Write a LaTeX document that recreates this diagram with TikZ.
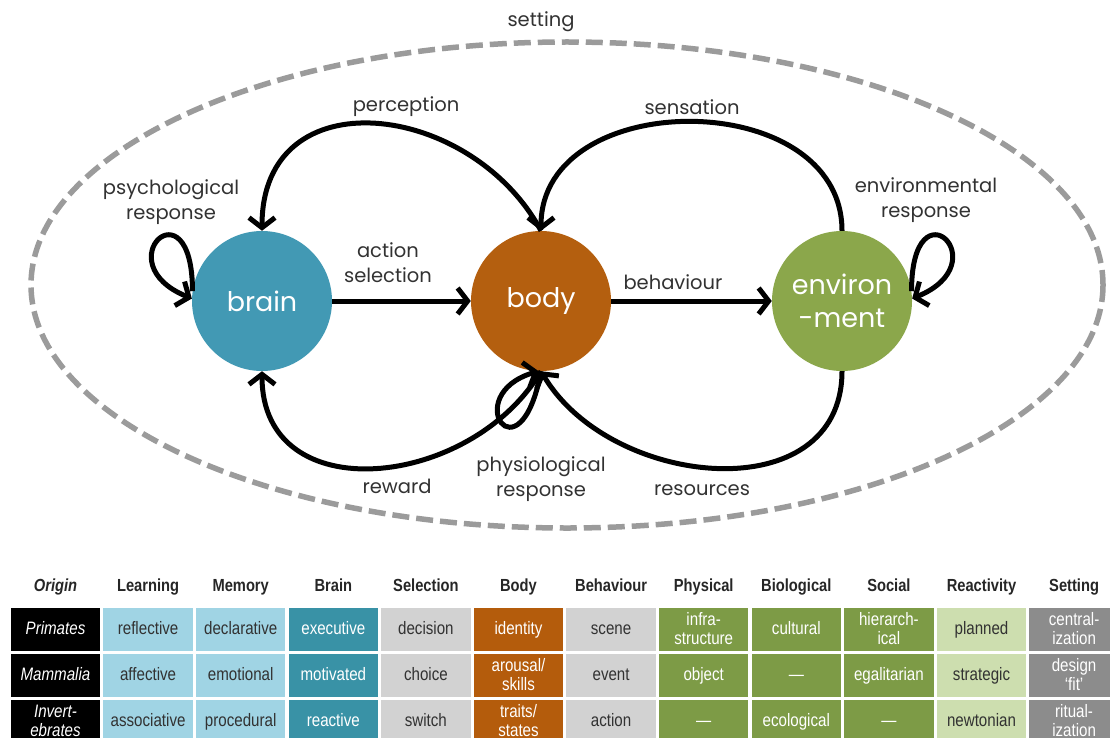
\documentclass[tikz,border=0pt]{standalone}
\usepackage{fontspec}
\usetikzlibrary{arrows.meta}
\newfontfamily\dfont{Poppins}
\newfontfamily\tfont[FakeStretch=0.84]{Liberation Sans}
\definecolor{brainc}{RGB}{66,153,180}
\definecolor{bodyc}{RGB}{180,95,15}
\definecolor{envc}{RGB}{139,167,75}
\definecolor{setc}{RGB}{155,155,155}
\definecolor{lblue}{RGB}{160,212,228}
\definecolor{tblue}{RGB}{57,146,166}
\definecolor{lgray}{RGB}{210,210,210}
\definecolor{obody}{RGB}{180,92,12}
\definecolor{dgreen}{RGB}{125,155,70}
\definecolor{lgreen}{RGB}{205,222,175}
\definecolor{dgray}{RGB}{140,140,140}
\definecolor{txt}{RGB}{50,50,50}
\newcommand\topstrut{\rule[-6pt]{0pt}{22pt}}
\newcommand\botstrut{\rule[-6pt]{0pt}{6pt}}
\newcommand\twol[2]{\begin{tabular}{@{}c@{}}#1\\#2\end{tabular}}
\begin{document}
\begin{tikzpicture}[x=1pt,y=-1pt,
  lbl/.style={font=\dfont\fontsize{19.5}{25}\selectfont, text=txt, align=center, inner sep=0pt},
  ball/.style={circle, minimum size=140pt, inner sep=0pt, text=white, align=center,
    font=\dfont\fontsize{27}{33}\selectfont},
  arr/.style={line width=5pt, -{Straight Barb[length=10pt,width=26pt]}},
  hd/.style={font=\tfont\bfseries\fontsize{17.5}{19}\selectfont, text=black!85, inner sep=0pt,
    execute at begin node=\strut},
  cell/.style={minimum width=89.5pt, minimum height=43pt, inner sep=0pt,
    font=\tfont\fontsize{18}{19.5}\selectfont,
    execute at begin node=\topstrut, execute at end node=\botstrut},
  two/.style={text height=20pt, text depth=7pt},
  lc/.style={cell, text=txt},
  dc/.style={cell, text=white},
  oc/.style={cell, text=white, fill=black, font=\tfont\itshape\fontsize{18}{19.5}\selectfont},
]
\useasboundingbox (0,0) rectangle (1110,738);
\clip (0,0) rectangle (1110,738);

% setting ellipse
\draw[setc, line width=5.5pt, dash pattern=on 17pt off 7pt] (567,285) ellipse [x radius=536, y radius=243];
\node[lbl] (setting) at (541,22) {setting};

% main nodes
\node[ball, fill=brainc] (brain) at (262,301) {brain};
\node[ball, fill=bodyc] (body) at (541,301) {body};
\node[ball, fill=envc] (env) at (842,301) {environ\\-ment};

% straight arrows
\draw[arr] (brain.east) -- (body.west);
\draw[arr] (body.east) -- (env.west);

% arcs
\draw[arr] (body.north) .. controls +(-70,-130) and +(0,-155) .. (brain.north);
\draw[arr] (env.north) .. controls +(0,-145) and +(0,-145) .. (body.north);
\draw[arr] (body.south) .. controls +(-70,118) and +(0,140) .. (brain.south);
\draw[arr] (env.south) .. controls +(0,140) and +(70,118) .. (body.south);

% loops
\draw[arr] (brain.172) .. controls +(0,-112) and +(-88,-36) .. (brain.178);
\draw[arr] (env.8) .. controls +(0,-112) and +(88,-36) .. (env.2);
\draw[arr] (body.south) .. controls +(-21,113) and +(-80,24) .. (body.268);

% labels
\node[lbl] (lperc) at (406,107) {perception};
\node[lbl] (lsens) at (692,107) {sensation};
\node[lbl] (lpsy) at (171,202) {psychological\\response};
\node[lbl] (lenv) at (926,200) {environmental\\response};
\node[lbl] (lact) at (388,263) {action\\selection};
\node[lbl] (lbeh) at (673,282) {behaviour};
\node[lbl] (lrew) at (397,486) {reward};
\node[lbl] (lphy) at (541,479) {physiological\\response};
\node[lbl] (lres) at (702,490) {resources};

% table header
\node[hd] (h0) at (55.5,588) {\itshape Origin};
\node[hd] (h1) at (148.1,588) {Learning};
\node[hd] (h2) at (240.7,588) {Memory};
\node[hd] (h3) at (333.3,588) {Brain};
\node[hd] (h4) at (425.9,588) {Selection};
\node[hd] (h5) at (518.5,588) {Body};
\node[hd] (h6) at (611.1,588) {Behaviour};
\node[hd] (h7) at (703.7,588) {Physical};
\node[hd] (h8) at (796.3,588) {Biological};
\node[hd] (h9) at (888.9,588) {Social};
\node[hd] (h10) at (981.5,588) {Reactivity};
\node[hd] (h11) at (1074.1,588) {Setting};

% row 1
\node[oc] (a0) at (55.5,629) {Primates};
\node[lc, fill=lblue] (a1) at (148.1,629) {reflective};
\node[lc, fill=lblue] (a2) at (240.7,629) {declarative};
\node[dc, fill=tblue] (a3) at (333.3,629) {executive};
\node[lc, fill=lgray] (a4) at (425.9,629) {decision};
\node[dc, fill=obody] (a5) at (518.5,629) {identity};
\node[lc, fill=lgray] (a6) at (611.1,629) {scene};
\node[dc, fill=dgreen, two] (a7) at (703.7,629) {\twol{infra-}{structure}};
\node[dc, fill=dgreen] (a8) at (796.3,629) {cultural};
\node[dc, fill=dgreen, two] (a9) at (888.9,629) {\twol{hierarch-}{ical}};
\node[lc, fill=lgreen] (a10) at (981.5,629) {planned};
\node[dc, fill=dgray, two] (a11) at (1074.1,629) {\twol{central-}{ization}};

% row 2
\node[oc] (b0) at (55.5,675) {Mammalia};
\node[lc, fill=lblue] (b1) at (148.1,675) {affective};
\node[lc, fill=lblue] (b2) at (240.7,675) {emotional};
\node[dc, fill=tblue] (b3) at (333.3,675) {motivated};
\node[lc, fill=lgray] (b4) at (425.9,675) {choice};
\node[dc, fill=obody, two] (b5) at (518.5,675) {\twol{arousal/}{skills}};
\node[lc, fill=lgray] (b6) at (611.1,675) {event};
\node[dc, fill=dgreen] (b7) at (703.7,675) {object};
\node[dc, fill=dgreen] (b8) at (796.3,675) {\textemdash};
\node[dc, fill=dgreen] (b9) at (888.9,675) {egalitarian};
\node[lc, fill=lgreen] (b10) at (981.5,675) {strategic};
\node[dc, fill=dgray, two] (b11) at (1074.1,675) {\twol{design}{‘fit’}};

% row 3
\node[oc, two] (c0) at (55.5,721) {\twol{Invert-}{ebrates}};
\node[lc, fill=lblue] (c1) at (148.1,721) {associative};
\node[lc, fill=lblue] (c2) at (240.7,721) {procedural};
\node[dc, fill=tblue] (c3) at (333.3,721) {reactive};
\node[lc, fill=lgray] (c4) at (425.9,721) {switch};
\node[dc, fill=obody, two] (c5) at (518.5,721) {\twol{traits/}{states}};
\node[lc, fill=lgray] (c6) at (611.1,721) {action};
\node[dc, fill=dgreen] (c7) at (703.7,721) {\textemdash};
\node[dc, fill=dgreen] (c8) at (796.3,721) {ecological};
\node[dc, fill=dgreen] (c9) at (888.9,721) {\textemdash};
\node[lc, fill=lgreen] (c10) at (981.5,721) {newtonian};
\node[dc, fill=dgray, two] (c11) at (1074.1,721) {\twol{ritual-}{ization}};
\end{tikzpicture}
\end{document}
